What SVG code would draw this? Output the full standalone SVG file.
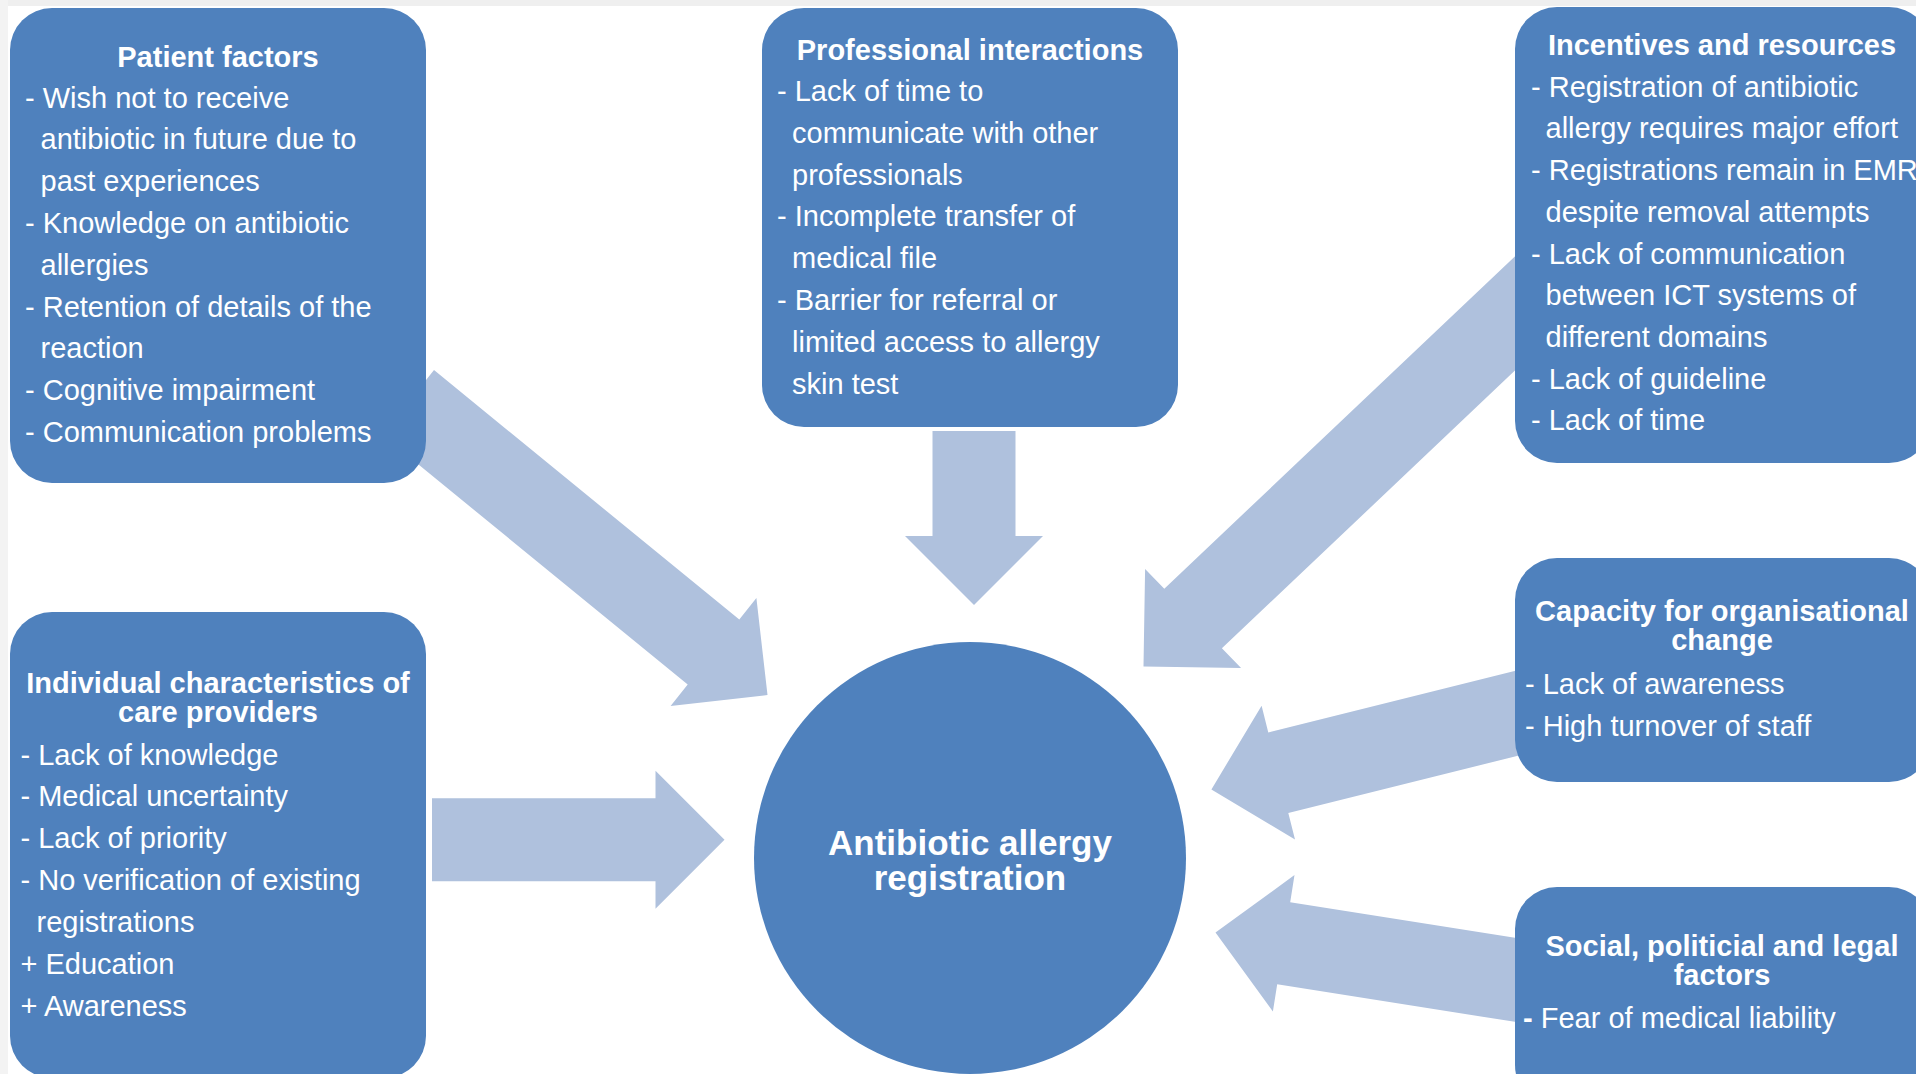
<svg xmlns="http://www.w3.org/2000/svg" width="1916" height="1074" viewBox="0 0 1916 1074">
<style>
.box{fill:#4F81BD}
.arrow{fill:#AFC1DD}
.t{fill:#FFFFFF;font-family:"Liberation Sans",Arial,Helvetica,sans-serif;font-size:29px}
.b{font-weight:bold}
.m{text-anchor:middle}
.c{fill:#FFFFFF;font-family:"Liberation Sans",Arial,Helvetica,sans-serif;font-size:35px;font-weight:bold;text-anchor:middle}
</style>
<rect x="0" y="0" width="1916" height="1074" fill="#FFFFFF"/>
<rect x="0" y="0" width="1916" height="6" fill="#EFEFEF"/>
<rect x="0" y="0" width="8" height="1074" fill="#F3F3F3"/>
<g id="connectors">
<polygon class="arrow" points="434,370 739.3,619.6 756.4,598.1 767.5,695 670.6,706.1 687.7,684.6 382.4,435"/>
<polygon class="arrow" points="932.5,431 1015.5,431 1015.5,536 1043,536 974,605 905,536 932.5,536"/>
<polygon class="arrow" points="1523.8,248 1164.3,588.7 1145.1,568.9 1143.5,666.5 1241.1,668.1 1221.9,648.3 1581.4,307.6"/>
<polygon class="arrow" points="1520.5,669.5 1268.3,732.4 1261.6,705.8 1211.4,789.4 1295,839.6 1288.3,813 1540.5,750.1"/>
<polygon class="arrow" points="432,798.2 655.5,798.2 655.5,770.7 724.5,839.7 655.5,908.7 655.5,881.2 432,881.2"/>
<polygon class="arrow" points="1547.1,942.9 1290.2,902.3 1294.5,875.1 1215.5,932.5 1272.9,1011.5 1277.2,984.3 1534.1,1024.9"/>
</g>
<g id="patient-factors">
<rect class="box" x="10" y="8" width="416" height="475" rx="42"/>
<text class="t b m" x="218" y="67">Patient factors</text>
<text class="t">
<tspan x="25" y="107.5">- Wish not to receive</tspan>
<tspan x="40.5" y="149.3">antibiotic in future due to</tspan>
<tspan x="40.5" y="191.1">past experiences</tspan>
<tspan x="25" y="232.9">- Knowledge on antibiotic</tspan>
<tspan x="40.5" y="274.7">allergies</tspan>
<tspan x="25" y="316.5">- Retention of details of the</tspan>
<tspan x="40.5" y="358.3">reaction</tspan>
<tspan x="25" y="400.1">- Cognitive impairment</tspan>
<tspan x="25" y="441.9">- Communication problems</tspan>
</text>
</g>
<g id="professional-interactions">
<rect class="box" x="762" y="8" width="416" height="419" rx="42"/>
<text class="t b m" x="970" y="60">Professional interactions</text>
<text class="t">
<tspan x="777" y="101">- Lack of time to</tspan>
<tspan x="792" y="142.8">communicate with other</tspan>
<tspan x="792" y="184.6">professionals</tspan>
<tspan x="777" y="226.4">- Incomplete transfer of</tspan>
<tspan x="792" y="268.2">medical file</tspan>
<tspan x="777" y="310">- Barrier for referral or</tspan>
<tspan x="792" y="351.8">limited access to allergy</tspan>
<tspan x="792" y="393.6">skin test</tspan>
</text>
</g>
<g id="incentives-resources">
<rect class="box" x="1515" y="7" width="416" height="456" rx="42"/>
<text class="t b m" x="1722" y="55">Incentives and resources</text>
<text class="t">
<tspan x="1531" y="96.7">- Registration of antibiotic</tspan>
<tspan x="1545.5" y="138.4">allergy requires major effort</tspan>
<tspan x="1531" y="180.1">- Registrations remain in EMR</tspan>
<tspan x="1545.5" y="221.8">despite removal attempts</tspan>
<tspan x="1531" y="263.5">- Lack of communication</tspan>
<tspan x="1545.5" y="305.2">between ICT systems of</tspan>
<tspan x="1545.5" y="346.9">different domains</tspan>
<tspan x="1531" y="388.6">- Lack of guideline</tspan>
<tspan x="1531" y="430.3">- Lack of time</tspan>
</text>
</g>
<g id="individual-characteristics">
<rect class="box" x="10" y="612" width="416" height="466" rx="42"/>
<text class="t b m" x="218" y="693.3">Individual characteristics of</text>
<text class="t b m" x="218" y="722">care providers</text>
<text class="t">
<tspan x="20.5" y="764.5">- Lack of knowledge</tspan>
<tspan x="20.5" y="806.4">- Medical uncertainty</tspan>
<tspan x="20.5" y="848.3">- Lack of priority</tspan>
<tspan x="20.5" y="890.2">- No verification of existing</tspan>
<tspan x="36.5" y="932.1">registrations</tspan>
<tspan x="20.5" y="974">+ Education</tspan>
<tspan x="20.5" y="1015.9">+ Awareness</tspan>
</text>
</g>
<g id="organisational-change">
<rect class="box" x="1515" y="558" width="416" height="224" rx="42"/>
<text class="t b m" x="1722" y="621">Capacity for organisational</text>
<text class="t b m" x="1722" y="650">change</text>
<text class="t">
<tspan x="1525" y="694">- Lack of awareness</tspan>
<tspan x="1525" y="736.3">- High turnover of staff</tspan>
</text>
</g>
<g id="social-political-legal">
<rect class="box" x="1515" y="887" width="416" height="220" rx="42"/>
<text class="t b m" x="1722" y="956">Social, politicial and legal</text>
<text class="t b m" x="1722" y="985.3">factors</text>
<text class="t" x="1523" y="1027.5"><tspan class="b">-</tspan> Fear of medical liability</text>
</g>
<g id="antibiotic-allergy-registration">
<circle cx="970" cy="858" r="216" fill="#4F81BD"/>
<text class="c" x="970" y="854.6">Antibiotic allergy</text>
<text class="c" x="970" y="890">registration</text>
</g>
</svg>
